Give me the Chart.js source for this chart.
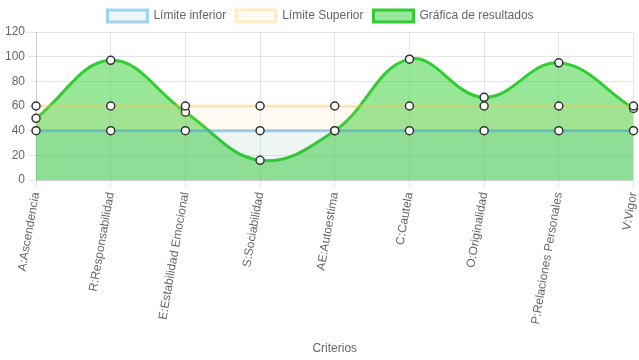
<!DOCTYPE html>
<html>
<head>
<meta charset="utf-8">
<script src="https://cdn.jsdelivr.net/npm/chart.js@4"></script>
<style>
  html,body{margin:0;padding:0;background:#fff;}
  #wrap{width:639px;height:360px;}
</style>
</head>
<body>
<div id="wrap"><canvas id="chart"></canvas></div>
<script>
/* data */
const criterios = ['A:Ascendencia','R:Responsabilidad','E:Estabilidad Emocional','S:Sociabilidad','AE:Autoestima','C:Cautela','O:Originalidad','P:Relaciones Personales','V:Vigor'];
const limiteInferior = [40,40,40,40,40,40,40,40,40];
const limiteSuperior = [60,60,60,60,60,60,60,60,60];
const resultados = [50,97,55,16,40,98,67,95,58];

Chart.defaults.font.family = 'Arial, "Liberation Sans", sans-serif';
Chart.defaults.color = '#666';

const pts = {pointRadius:4, pointBackgroundColor:'#fff', pointBorderColor:'#333', pointBorderWidth:1.5};

new Chart(document.getElementById('chart'), {
  type:'line',
  data:{
    labels: criterios,
    datasets:[
      Object.assign({label:'Límite inferior', data:limiteInferior, borderColor:'rgba(54,162,235,0.45)', backgroundColor:'rgba(40,140,110,0.08)', borderWidth:3, fill:'origin'}, pts),
      Object.assign({label:'Límite Superior', data:limiteSuperior, borderColor:'rgba(255,206,86,0.35)', backgroundColor:'rgba(255,206,86,0.08)', borderWidth:3, fill:'-1'}, pts),
      Object.assign({label:'Gráfica de resultados', data:resultados, borderColor:'rgb(51,204,51)', backgroundColor:'rgba(50,205,50,0.5)', borderWidth:3, fill:'origin', tension:0.4}, pts)
    ]
  },
  options:{
    responsive:true, maintainAspectRatio:false, animation:false,
    layout:{ padding:{left:2} },
    plugins:{ legend:{ labels:{ font:{size:12} } } },
    scales:{
      y:{ min:0, max:120, ticks:{stepSize:20, font:{size:12}} },
      x:{ ticks:{ minRotation:80, maxRotation:80, font:{size:12} },
          title:{ display:true, text:'Criterios', font:{size:12}, padding:{top:14, bottom:4} },
          afterFit: s => { s.paddingRight = 5; } }
    }
  }
});
</script>
</body>
</html>
